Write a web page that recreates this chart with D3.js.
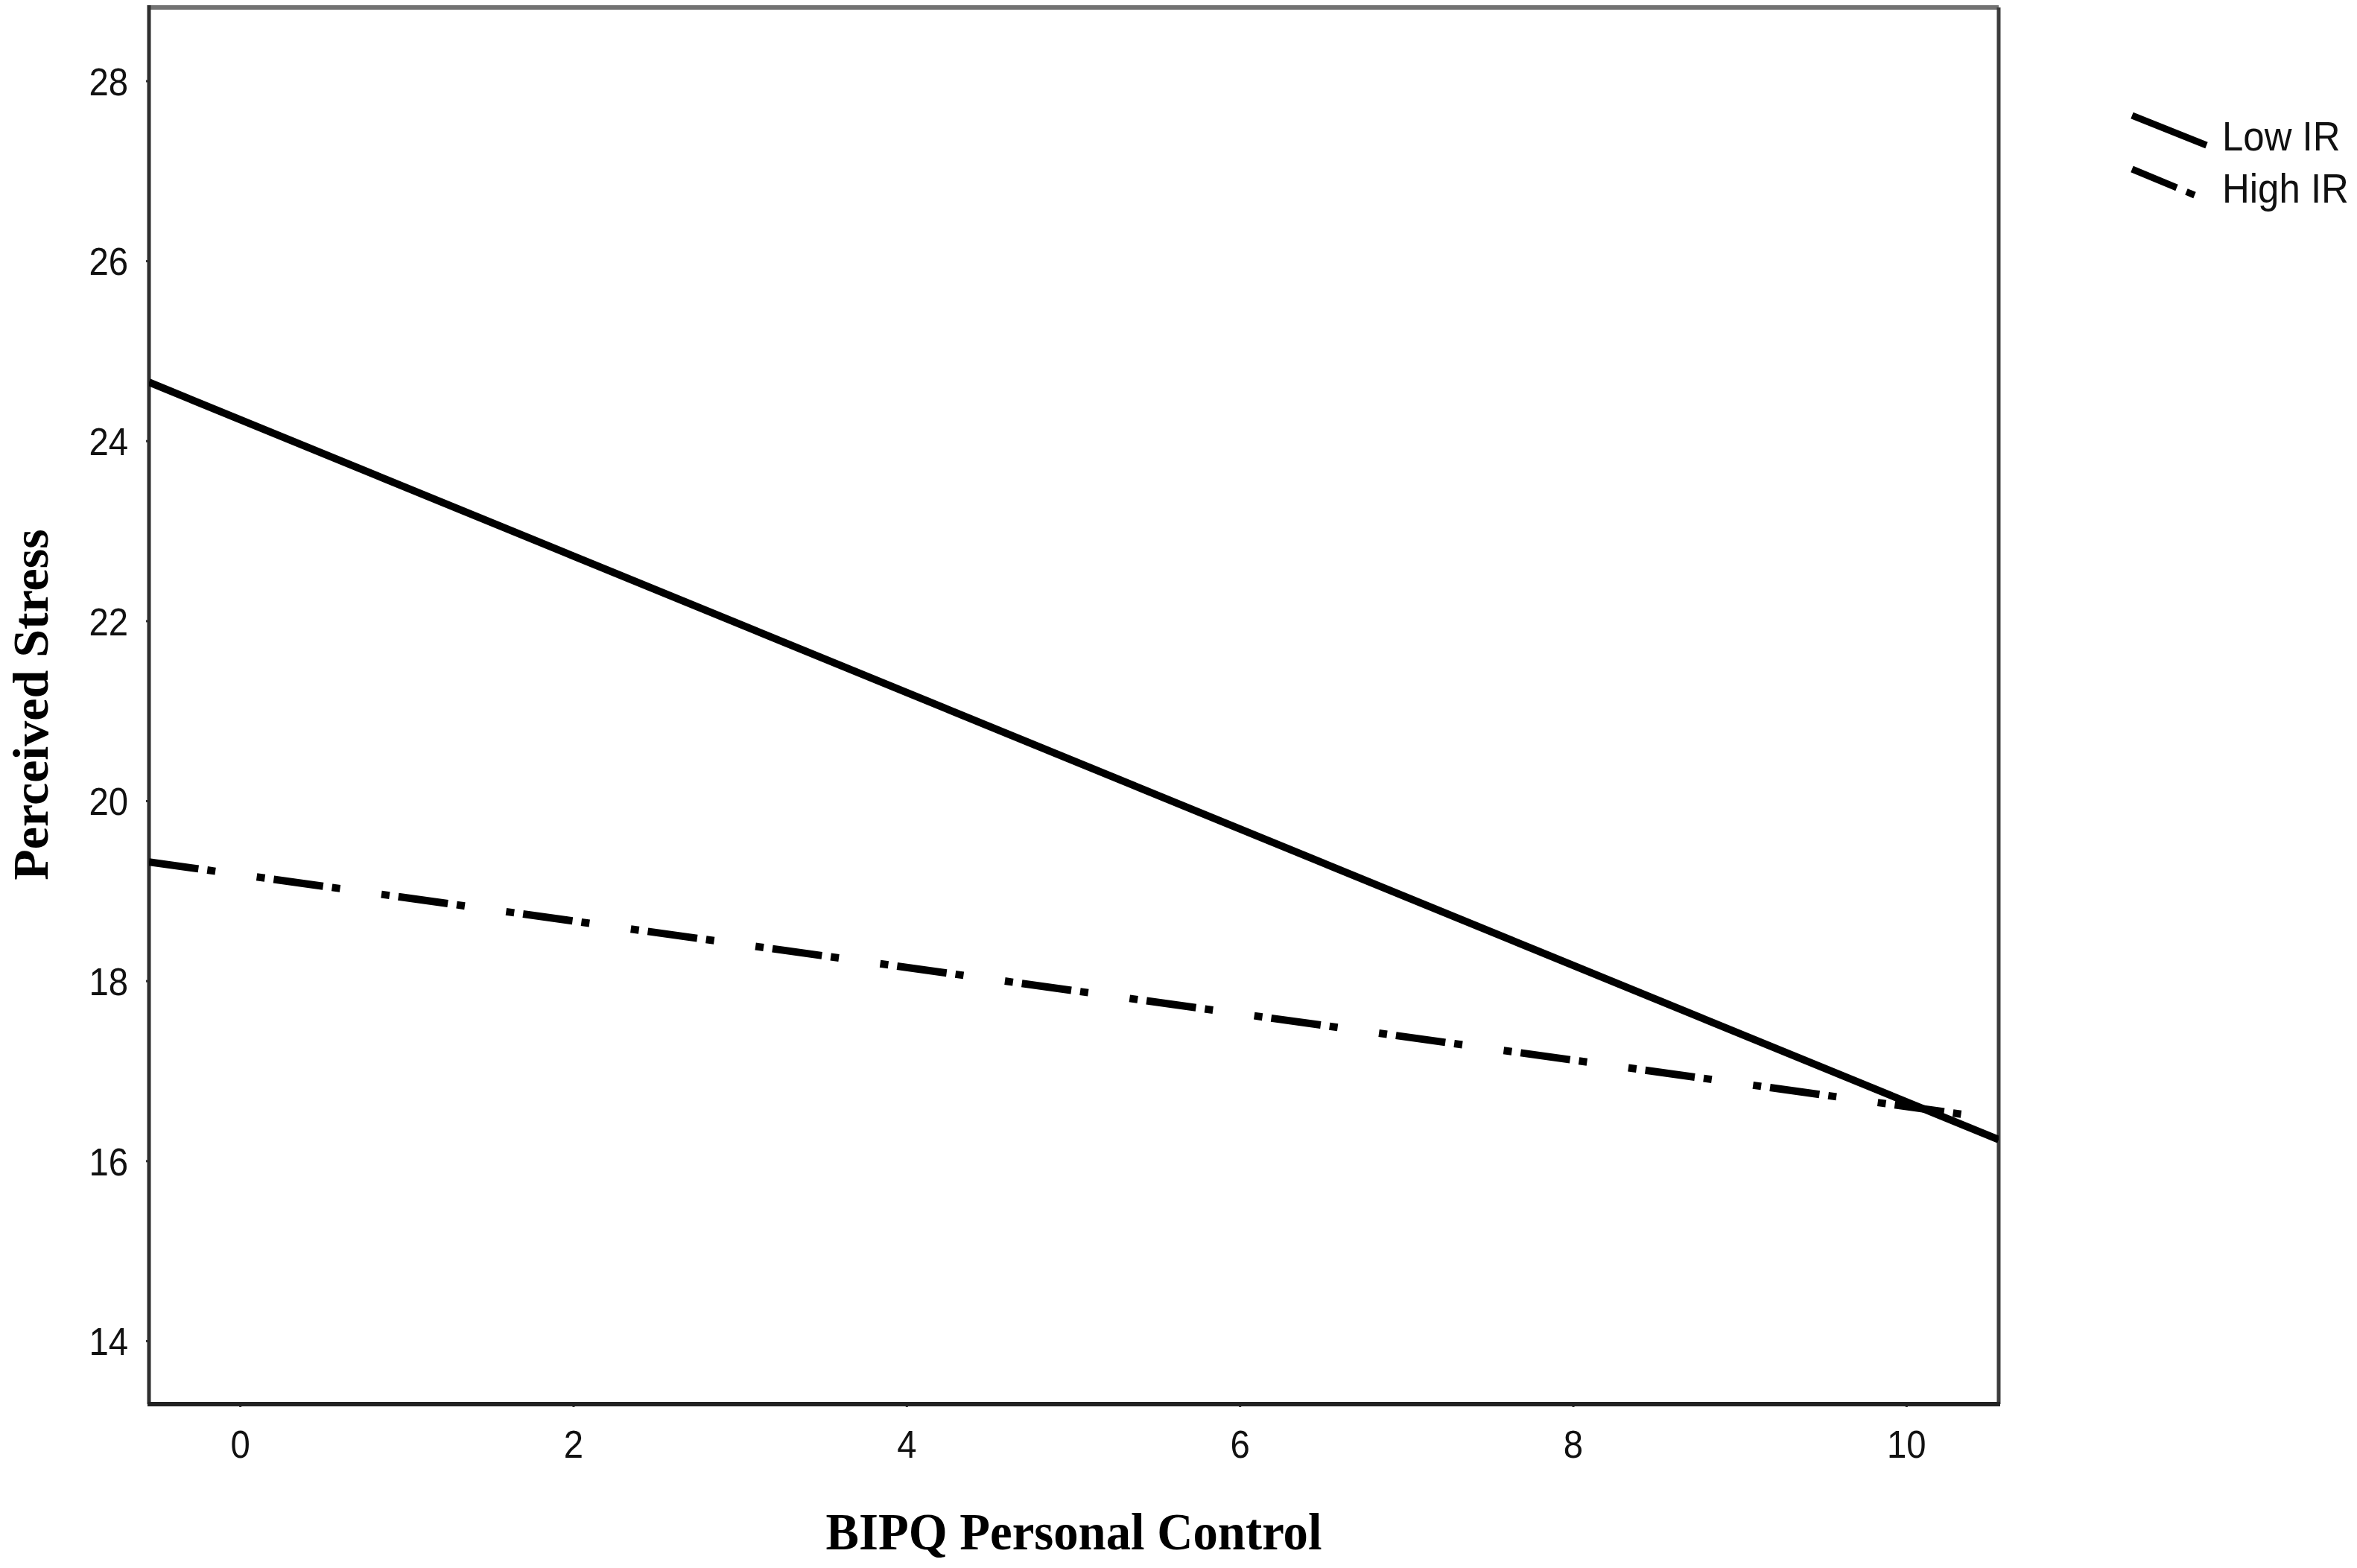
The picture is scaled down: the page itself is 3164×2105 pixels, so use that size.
<html>
<head>
  <title>Perceived Stress by BIPQ Personal Control</title>
  <script src="https://d3js.org/d3.v7.min.js"></script>
  <style>
    body { margin: 0; background: #fff; }
  </style>
</head>
<body>
<script>
// regression lines, read at the two edges of the x range
var controlX = [-0.546, 10.555];
var lowIR = [24.65, 16.235];
var highIR = [19.32, 16.46];

var xTicks = [0, 2, 4, 6, 8, 10];
var yTicks = [14, 16, 18, 20, 22, 24, 26, 28];
var seriesNames = ['Low IR', 'High IR'];

var width = 3164,
    height = 2105;

var plotLeft = 200, plotRight = 2683, plotTop = 10, plotBottom = 1885;
var squeeze = 0.91;

var svg = d3.select('body')
  .append('svg')
  .attr('width', width)
  .attr('height', height);

var x = d3.scaleLinear()
  .domain([controlX[0], controlX[1]])
  .range([plotLeft, plotRight]);

var y = d3.scaleLinear()
  .domain([13.296, 28.815])
  .range([plotBottom, plotTop]);

svg.append('clipPath').attr('id', 'plot')
  .append('rect')
  .attr('x', plotLeft).attr('y', plotTop)
  .attr('width', plotRight - plotLeft).attr('height', plotBottom - plotTop);

// axes (ticks + labels only, frame drawn separately)
var yAxis = svg.append('g')
  .attr('transform', 'translate(' + plotLeft + ',0)')
  .call(d3.axisLeft(y).tickValues(yTicks).tickSizeInner(4).tickSizeOuter(0).tickPadding(0));

var xAxis = svg.append('g')
  .attr('transform', 'translate(0,' + plotBottom + ')')
  .call(d3.axisBottom(x).tickValues(xTicks).tickSizeInner(4).tickSizeOuter(0).tickPadding(0));

[yAxis, xAxis].forEach(function(a) {
  a.select('.domain').remove();
  a.selectAll('.tick line').attr('stroke', '#333').attr('stroke-width', 3);
  a.selectAll('.tick text')
    .attr('fill', '#111')
    .style('font-family', '"Liberation Sans", Arial, sans-serif')
    .style('font-size', '52px');
});

yAxis.selectAll('.tick text')
  .attr('x', -28 / squeeze)
  .attr('dy', '0.36em')
  .attr('text-anchor', 'end')
  .attr('transform', 'scale(' + squeeze + ',1)');

xAxis.selectAll('.tick text')
  .attr('y', 72)
  .attr('dy', 0)
  .attr('transform', 'scale(' + squeeze + ',1)');

// frame
svg.append('line').attr('x1', plotLeft).attr('x2', plotRight).attr('y1', plotTop).attr('y2', plotTop)
  .attr('stroke', '#727272').attr('stroke-width', 6);
svg.append('line').attr('x1', plotRight).attr('x2', plotRight).attr('y1', plotTop).attr('y2', plotBottom)
  .attr('stroke', '#3c3c3c').attr('stroke-width', 5);
svg.append('line').attr('x1', plotLeft).attr('x2', plotLeft).attr('y1', plotTop - 3).attr('y2', plotBottom)
  .attr('stroke', '#2e2e2e').attr('stroke-width', 5);
svg.append('line').attr('x1', plotLeft - 2).attr('x2', plotRight + 2).attr('y1', plotBottom).attr('y2', plotBottom)
  .attr('stroke', '#222').attr('stroke-width', 6);

// lines
var line = d3.line()
  .x(function(d) { return x(d[0]); })
  .y(function(d) { return y(d[1]); });

var lines = svg.append('g').attr('clip-path', 'url(#plot)');

lines.append('path')
  .datum(d3.zip(controlX, lowIR))
  .attr('d', line)
  .attr('fill', 'none')
  .attr('stroke', '#000')
  .attr('stroke-width', 10);

lines.append('path')
  .datum(d3.zip(controlX, highIR))
  .attr('d', line)
  .attr('fill', 'none')
  .attr('stroke', '#000')
  .attr('stroke-width', 10)
  .attr('stroke-dasharray', '67,12,11,56,11,12');

// legend
var legend = svg.append('g');
legend.append('line')
  .attr('x1', 2862).attr('y1', 155).attr('x2', 2962).attr('y2', 195)
  .attr('stroke', '#000').attr('stroke-width', 9);
legend.append('line')
  .attr('x1', 2862).attr('y1', 227).attr('x2', 2946).attr('y2', 262)
  .attr('stroke', '#000').attr('stroke-width', 9)
  .attr('stroke-dasharray', '65,14,12,200');

legend.selectAll('text')
  .data(seriesNames)
  .enter()
  .append('text')
  .attr('transform', function(d, i) { return 'translate(2983,' + (202 + i * 70) + ') scale(' + squeeze + ',1)'; })
  .attr('fill', '#111')
  .style('font-family', '"Liberation Sans", Arial, sans-serif')
  .style('font-size', '56px')
  .text(function(d) { return d; });

// axis titles
svg.append('text')
  .attr('x', (plotLeft + plotRight) / 2)
  .attr('y', 2080)
  .attr('text-anchor', 'middle')
  .attr('textLength', 666)
  .attr('lengthAdjust', 'spacingAndGlyphs')
  .style('font-family', '"Liberation Serif", "Times New Roman", serif')
  .style('font-weight', 'bold')
  .style('font-size', '70px')
  .text('BIPQ Personal Control');

svg.append('text')
  .attr('transform', 'translate(64,946) rotate(-90)')
  .attr('text-anchor', 'middle')
  .style('font-family', '"Liberation Serif", "Times New Roman", serif')
  .style('font-weight', 'bold')
  .style('font-size', '68px')
  .text('Perceived Stress');
</script>
</body>
</html>
